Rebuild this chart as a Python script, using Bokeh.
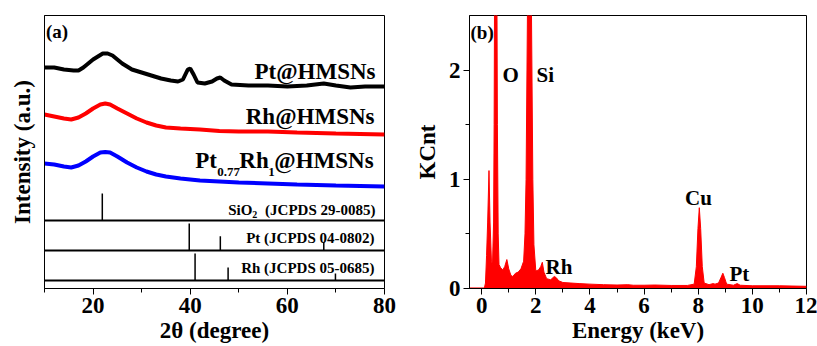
from bokeh.plotting import figure
from bokeh.layouts import row
from bokeh.models import FixedTicker, Span, Label, Range1d, Title
from bokeh.embed import file_html
from bokeh.resources import INLINE

# ---------------- data: panel (a) XRD ----------------
tt_pt = [10, 12, 14, 16, 17, 18, 19, 20, 21, 22, 23, 24, 25, 26, 27, 28, 30, 32, 34, 36,
         37.5, 38.5, 39.5, 40, 40.7, 41.5, 43, 44.5, 45.5, 46.2, 47, 48.5, 52, 56, 60, 64,
         67.5, 70, 73, 76, 80]
i_pt = [221, 221, 219, 218, 218, 221, 225, 229, 232, 235, 235, 233, 229, 225, 222, 219, 216,
        213, 210, 208, 207, 209, 219, 220, 214, 206, 205, 207, 210, 211, 208, 204, 203, 203,
        202, 203, 205, 203, 201, 202, 202]

tt_rh = [10, 12, 14, 15.5, 17, 18.5, 20, 21.5, 22.5, 23.5, 25, 27, 29, 31, 33, 35, 38, 42,
         46, 50, 56, 62, 70, 80]
i_rh = [174, 172, 170, 169, 171, 175, 180, 184, 185, 184, 180, 175, 170, 166, 163, 161, 160,
        159, 157.5, 157, 157, 156, 155, 154]

tt_ptrh = [10, 12, 14, 15.5, 17, 18.5, 20, 21.5, 22.5, 23.5, 25, 27, 29, 31, 33, 35, 38, 42,
           46, 50, 56, 62, 70, 80]
i_ptrh = [125, 124, 122, 121, 123, 127, 132, 136, 136.5, 136, 132, 126, 121, 117, 114, 112,
          110, 108, 107, 106, 105, 104, 103, 102]

sio2_pos = [21.9]
sio2_rel = [100]
pt_pos = [39.8, 46.2, 67.5]
pt_rel = [100, 53, 31]
rh_pos = [41.0, 47.8, 69.9]
rh_rel = [100, 48, 26]

xrd_ticks = [20, 40, 60, 80]
xrd_minor = [10, 30, 50, 70]

# ---------------- data: panel (b) EDS ----------------
energy = [-0.45, 0.10, 0.14, 0.18, 0.22, 0.27, 0.31, 0.36, 0.40, 0.44, 0.46, 0.48, 0.52,
          0.56, 0.58, 0.61, 0.64, 0.70, 0.78, 0.85, 0.93, 1.00, 1.08, 1.15, 1.25, 1.35, 1.45,
          1.55, 1.60, 1.64, 1.69, 1.76, 1.84, 1.89, 1.93, 2.00, 2.10, 2.18, 2.24, 2.30, 2.40,
          2.55, 2.68, 2.75, 2.85, 3.0, 3.3, 3.6, 4.0, 4.5, 5.0, 5.4, 5.6, 6.0, 6.4, 7.0, 7.6,
          7.85, 7.93, 7.99, 8.04, 8.09, 8.15, 8.22, 8.4, 8.55, 8.62, 8.75, 8.84, 8.91, 8.97,
          9.05, 9.3, 9.44, 9.55, 10.0, 11.0, 12.0]
kcnt = [0.005, 0.005, 0.05, 0.3, 0.6, 1.08, 0.6, 0.25, 0.22, 0.6, 1.5, 3.0, 6.0,
        3.0, 1.5, 0.5, 0.22, 0.19, 0.17, 0.2, 0.265, 0.18, 0.12, 0.11, 0.14, 0.15, 0.18,
        0.25, 0.5, 1.0, 2.5, 6.0, 2.5, 1.0, 0.4, 0.16, 0.17, 0.2, 0.24, 0.15, 0.09,
        0.08, 0.11, 0.1, 0.07, 0.055, 0.05, 0.045, 0.04, 0.035, 0.032, 0.035, 0.03, 0.03,
        0.032, 0.028, 0.028, 0.04, 0.2, 0.55, 0.74, 0.55, 0.2, 0.05, 0.035, 0.045, 0.04,
        0.05, 0.1, 0.14, 0.1, 0.04, 0.03, 0.045, 0.03, 0.025, 0.025, 0.02]

eds_ticks = [0, 2, 4, 6, 8, 10, 12]
eds_minor = [1, 3, 5, 7, 9, 11]
kc_ticks = [0, 1, 2]
kc_minor = [0.5, 1.5]

FONT = "Liberation Serif"


def style_axes(p):
    for ax in [p.xaxis[0], p.yaxis[0]]:
        ax.major_label_text_font = FONT
        ax.major_label_text_font_style = "bold"
        ax.major_label_text_font_size = "23px"
        ax.major_label_text_color = "black"
        ax.axis_label_text_font = FONT
        ax.axis_label_text_font_style = "bold"
        ax.axis_label_text_font_size = "23px"
        ax.axis_label_text_color = "black"
        ax.axis_line_color = "black"
        ax.major_tick_line_color = "black"
        ax.minor_tick_line_color = "black"
        ax.major_tick_in = 0
        ax.major_tick_out = 6
        ax.minor_tick_in = 0
        ax.minor_tick_out = 4
    p.xgrid.visible = False
    p.ygrid.visible = False
    p.outline_line_color = "black"
    p.outline_line_alpha = 1
    p.outline_line_width = 1


def lab(p, x, y, text, size_px, unit_px, align="left"):
    # baseline correction (empirical) expressed in data units
    y_fix = y + 0.36 * size_px / unit_px
    p.add_layout(Label(x=x, y=y_fix, text=text, text_font=FONT, text_font_style="bold",
                       text_font_size=f"{size_px}px", text_align=align,
                       text_baseline="alphabetic", text_color="black"))


def x_title(p, text):
    p.add_layout(Title(text=text, align="center", text_font=FONT, text_font_style="bold",
                       text_font_size="23px", text_color="black", standoff=0,
                       vertical_align="bottom"), "below")


# ---------------- panel (a) ----------------
p1 = figure(width=410, height=346, output_backend="svg", toolbar_location=None,
            x_range=Range1d(10, 80), y_range=Range1d(0, 273),
            min_border_left=44, min_border_right=26, min_border_top=15, min_border_bottom=58)
p1.xaxis.ticker = FixedTicker(ticks=xrd_ticks, minor_ticks=xrd_minor)
p1.yaxis.ticker = FixedTicker(ticks=[], minor_ticks=[])
p1.yaxis.axis_label = "Intensity (a.u.)"
style_axes(p1)
p1.xaxis.major_label_standoff = 3
p1.yaxis.axis_label_standoff = 10
x_title(p1, "2θ (degree)")

p1.line(tt_pt, i_pt, line_color="black", line_width=4)
p1.line(tt_rh, i_rh, line_color="#ff0000", line_width=4)
p1.line(tt_ptrh, i_ptrh, line_color="#0000ff", line_width=4)

# reference pattern stripes
stripe_base = {"sio2": 68, "pt": 38, "rh": 8}
scale = 27 / 100.0
for base in stripe_base.values():
    p1.add_layout(Span(location=base, dimension="width", line_color="black", line_width=2))
p1.segment(x0=sio2_pos, x1=sio2_pos, y0=[stripe_base["sio2"]] * len(sio2_pos),
           y1=[stripe_base["sio2"] + r * scale for r in sio2_rel], line_color="black", line_width=1.5)
p1.segment(x0=pt_pos, x1=pt_pos, y0=[stripe_base["pt"]] * len(pt_pos),
           y1=[stripe_base["pt"] + r * scale for r in pt_rel], line_color="black", line_width=1.5)
p1.segment(x0=rh_pos, x1=rh_pos, y0=[stripe_base["rh"]] * len(rh_pos),
           y1=[stripe_base["rh"] + r * scale for r in rh_rel], line_color="black", line_width=1.5)


def xa(px):
    return 10 + (px - 44.5) / 4.85


def ya(py):
    return 288 - py


UA = 1.0
lab(p1, xa(46), ya(38), "(a)", 19, UA)
lab(p1, xa(375), ya(79), "Pt@HMSNs", 23, UA, align="right")
lab(p1, xa(374), ya(124), "Rh@HMSNs", 23, UA, align="right")
lab(p1, xa(195), ya(168), "Pt", 23, UA)
lab(p1, xa(217), ya(176), "0.77", 13, UA)
lab(p1, xa(239), ya(168), "Rh", 23, UA)
lab(p1, xa(268), ya(176), "1", 13, UA)
lab(p1, xa(274), ya(168), "@HMSNs", 23, UA)
lab(p1, xa(228), ya(215), "SiO", 15, UA)
lab(p1, xa(252), ya(218), "2", 10, UA)
lab(p1, xa(375), ya(215), "(JCPDS 29-0085)", 15, UA, align="right")
lab(p1, xa(374), ya(243), "Pt (JCPDS 04-0802)", 15, UA, align="right")
lab(p1, xa(374), ya(273), "Rh (JCPDS 05-0685)", 15, UA, align="right")

# ---------------- panel (b) ----------------
p2 = figure(width=407, height=346, output_backend="svg", toolbar_location=None,
            x_range=Range1d(-0.45, 12), y_range=Range1d(0, 2.5),
            min_border_left=59, min_border_right=11, min_border_top=15, min_border_bottom=57)
p2.xaxis.ticker = FixedTicker(ticks=eds_ticks, minor_ticks=eds_minor)
p2.yaxis.ticker = FixedTicker(ticks=kc_ticks, minor_ticks=kc_minor)
p2.yaxis.axis_label = "KCnt"
style_axes(p2)
p2.xaxis.major_label_standoff = 3
p2.yaxis.major_label_standoff = 3
p2.yaxis.axis_label_standoff = 6
x_title(p2, "Energy (keV)")

p2.varea(x=energy, y1=[0] * len(energy), y2=kcnt, fill_color="#ff0000")
p2.line(energy, kcnt, line_color="#ff0000", line_width=1)


def xb(px):
    return (px - 481.2) / 27.07


def yb(py):
    return (289 - py) / 109.6


UB = 109.6
lab(p2, xb(470), yb(39), "(b)", 19, UB)
lab(p2, xb(502), yb(82), "O", 21, UB)
lab(p2, xb(536), yb(82), "Si", 21, UB)
lab(p2, xb(698), yb(206), "Cu", 21, UB, align="center")
lab(p2, xb(545), yb(275), "Rh", 21, UB)
lab(p2, xb(729), yb(282), "Pt", 21, UB)

layout = row(p1, p2)
open("out.html", "w").write(file_html(layout, INLINE))
